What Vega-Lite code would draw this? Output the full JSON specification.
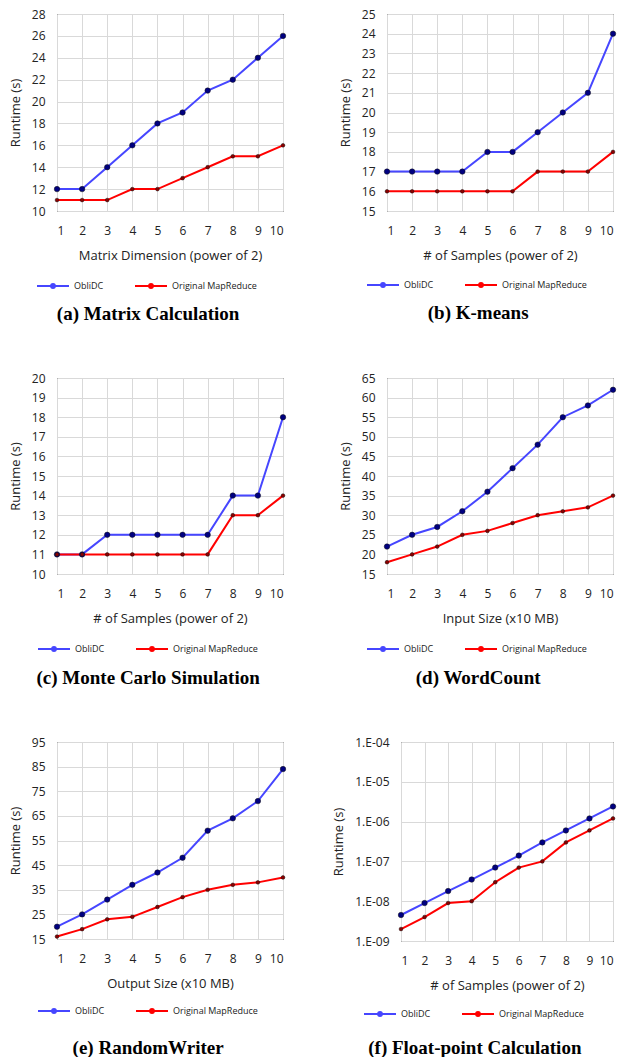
{
  "$schema": "https://vega.github.io/schema/vega-lite/v6.json",
  "padding": {"top": 7, "left": 8, "right": 0, "bottom": 0},
  "background": "white",
  "bounds": "flush",
  "spacing": 364,
  "resolve": {"scale": {"x": "independent", "y": "independent", "stroke": "independent", "fill": "independent"}, "legend": {"stroke": "independent", "fill": "independent"}, "axis": {"x": "independent", "y": "independent"}},
  "config": {
    "view": {"stroke": "#000", "strokeWidth": 1},
    "axis": {"labelFont": "Open Sans", "labelFontSize": 12, "labelColor": "#222", "titleFont": "Open Sans", "titleFontSize": 13, "titleFontWeight": "normal", "titleColor": "#222", "ticks": false, "domain": false, "gridColor": "#d9d9d9", "gridWidth": 1, "labelPadding": 12},
    "axisX": {"titlePadding": 13, "labelPadding": 14},
    "axisY": {"titlePadding": 9},
    "legend": {"orient": "none", "direction": "horizontal", "title": null, "labelFont": "Open Sans", "labelFontSize": 9, "labelColor": "#222", "symbolType": "M-1,0L1,0M-0.12,0A0.12,0.12,0,1,1,0.12,0A0.12,0.12,0,1,1,-0.12,0Z", "symbolSize": 1024, "symbolStrokeWidth": 2, "columnPadding": 27, "labelOffset": 4, "padding": 0},
    "title": {"font": "Liberation Serif", "fontSize": 19, "fontWeight": "bold", "color": "#000", "orient": "bottom", "anchor": "middle", "frame": "bounds", "offset": 13},
    "line": {"strokeWidth": 2},
    "point": {"filled": true, "opacity": 1, "stroke": "#111", "strokeWidth": 0.5}
  },
  "vconcat": [
    {
      "bounds": "flush",
      "spacing": 104,
      "resolve": {"scale": {"x": "independent", "y": "independent", "stroke": "independent", "fill": "independent"}, "legend": {"stroke": "independent", "fill": "independent"}, "axis": {"x": "independent", "y": "independent"}},
      "hconcat": [
        {
          "width": 226, "height": 197,
          "title": {"text": "(a) Matrix Calculation", "offset": 13},
          "data": {"values": [
            {"x": 1, "series": "ObliDC", "y": 12}, {"x": 2, "series": "ObliDC", "y": 12}, {"x": 3, "series": "ObliDC", "y": 14}, {"x": 4, "series": "ObliDC", "y": 16}, {"x": 5, "series": "ObliDC", "y": 18}, {"x": 6, "series": "ObliDC", "y": 19}, {"x": 7, "series": "ObliDC", "y": 21}, {"x": 8, "series": "ObliDC", "y": 22}, {"x": 9, "series": "ObliDC", "y": 24}, {"x": 10, "series": "ObliDC", "y": 26},
            {"x": 1, "series": "Original MapReduce", "y": 11}, {"x": 2, "series": "Original MapReduce", "y": 11}, {"x": 3, "series": "Original MapReduce", "y": 11}, {"x": 4, "series": "Original MapReduce", "y": 12}, {"x": 5, "series": "Original MapReduce", "y": 12}, {"x": 6, "series": "Original MapReduce", "y": 13}, {"x": 7, "series": "Original MapReduce", "y": 14}, {"x": 8, "series": "Original MapReduce", "y": 15}, {"x": 9, "series": "Original MapReduce", "y": 15}, {"x": 10, "series": "Original MapReduce", "y": 16}
          ]},
          "encoding": {
            "x": {"field": "x", "type": "quantitative", "scale": {"domain": [1, 10], "nice": false, "zero": false}, "axis": {"values": [1,2,3,4,5,6,7,8,9,10], "title": "Matrix Dimension (power of 2)"}},
            "y": {"field": "y", "type": "quantitative", "scale": {"domain": [10, 28], "nice": false, "zero": false}, "axis": {"values": [10,12,14,16,18,20,22,24,26,28], "title": "Runtime (s)"}}
          },
          "layer": [
            {"mark": {"type": "line"}, "encoding": {"stroke": {"field": "series", "type": "nominal", "scale": {"domain": ["ObliDC", "Original MapReduce"], "range": ["#4646ff", "#ff0000"]}, "legend": {"legendX": -21, "legendY": 255, "symbolType": "M-1,0L1,0M-0.12,0A0.12,0.12,0,1,1,0.12,0A0.12,0.12,0,1,1,-0.12,0Z", "symbolSize": 1024}}}},
            {"transform": [{"filter": "datum.series == 'ObliDC'"}], "mark": {"type": "point", "size": 30}, "encoding": {"fill": {"field": "series", "type": "nominal", "scale": {"domain": ["ObliDC", "Original MapReduce"], "range": ["#000080", "#8b0000"]}, "legend": {"legendX": -21, "legendY": 255, "symbolType": "M-1,0L1,0M-0.12,0A0.12,0.12,0,1,1,0.12,0A0.12,0.12,0,1,1,-0.12,0Z", "symbolSize": 1024}}}},
            {"transform": [{"filter": "datum.series != 'ObliDC'"}], "mark": {"type": "point", "size": 14}, "encoding": {"fill": {"field": "series", "type": "nominal", "scale": {"domain": ["ObliDC", "Original MapReduce"], "range": ["#000080", "#8b0000"]}}}}
          ]
        },
        {
          "width": 226, "height": 197,
          "title": {"text": "(b) K-means", "offset": 13},
          "data": {"values": [
            {"x": 1, "series": "ObliDC", "y": 17}, {"x": 2, "series": "ObliDC", "y": 17}, {"x": 3, "series": "ObliDC", "y": 17}, {"x": 4, "series": "ObliDC", "y": 17}, {"x": 5, "series": "ObliDC", "y": 18}, {"x": 6, "series": "ObliDC", "y": 18}, {"x": 7, "series": "ObliDC", "y": 19}, {"x": 8, "series": "ObliDC", "y": 20}, {"x": 9, "series": "ObliDC", "y": 21}, {"x": 10, "series": "ObliDC", "y": 24},
            {"x": 1, "series": "Original MapReduce", "y": 16}, {"x": 2, "series": "Original MapReduce", "y": 16}, {"x": 3, "series": "Original MapReduce", "y": 16}, {"x": 4, "series": "Original MapReduce", "y": 16}, {"x": 5, "series": "Original MapReduce", "y": 16}, {"x": 6, "series": "Original MapReduce", "y": 16}, {"x": 7, "series": "Original MapReduce", "y": 17}, {"x": 8, "series": "Original MapReduce", "y": 17}, {"x": 9, "series": "Original MapReduce", "y": 17}, {"x": 10, "series": "Original MapReduce", "y": 18}
          ]},
          "encoding": {
            "x": {"field": "x", "type": "quantitative", "scale": {"domain": [1, 10], "nice": false, "zero": false}, "axis": {"values": [1,2,3,4,5,6,7,8,9,10], "title": "# of Samples (power of 2)"}},
            "y": {"field": "y", "type": "quantitative", "scale": {"domain": [15, 25], "nice": false, "zero": false}, "axis": {"values": [15,16,17,18,19,20,21,22,23,24,25], "title": "Runtime (s)"}}
          },
          "layer": [
            {"mark": {"type": "line"}, "encoding": {"stroke": {"field": "series", "type": "nominal", "scale": {"domain": ["ObliDC", "Original MapReduce"], "range": ["#4646ff", "#ff0000"]}, "legend": {"legendX": -21, "legendY": 254, "symbolType": "M-1,0L1,0M-0.12,0A0.12,0.12,0,1,1,0.12,0A0.12,0.12,0,1,1,-0.12,0Z", "symbolSize": 1024}}}},
            {"transform": [{"filter": "datum.series == 'ObliDC'"}], "mark": {"type": "point", "size": 30}, "encoding": {"fill": {"field": "series", "type": "nominal", "scale": {"domain": ["ObliDC", "Original MapReduce"], "range": ["#000080", "#8b0000"]}, "legend": {"legendX": -21, "legendY": 254, "symbolType": "M-1,0L1,0M-0.12,0A0.12,0.12,0,1,1,0.12,0A0.12,0.12,0,1,1,-0.12,0Z", "symbolSize": 1024}}}},
            {"transform": [{"filter": "datum.series != 'ObliDC'"}], "mark": {"type": "point", "size": 14}, "encoding": {"fill": {"field": "series", "type": "nominal", "scale": {"domain": ["ObliDC", "Original MapReduce"], "range": ["#000080", "#8b0000"]}}}}
          ]
        }
      ]
    },
    {
      "bounds": "flush",
      "spacing": 104,
      "resolve": {"scale": {"x": "independent", "y": "independent", "stroke": "independent", "fill": "independent"}, "legend": {"stroke": "independent", "fill": "independent"}, "axis": {"x": "independent", "y": "independent"}},
      "hconcat": [
        {
          "width": 226, "height": 196,
          "title": {"text": "(c) Monte Carlo Simulation", "offset": 14},
          "data": {"values": [
            {"x": 1, "series": "ObliDC", "y": 11}, {"x": 2, "series": "ObliDC", "y": 11}, {"x": 3, "series": "ObliDC", "y": 12}, {"x": 4, "series": "ObliDC", "y": 12}, {"x": 5, "series": "ObliDC", "y": 12}, {"x": 6, "series": "ObliDC", "y": 12}, {"x": 7, "series": "ObliDC", "y": 12}, {"x": 8, "series": "ObliDC", "y": 14}, {"x": 9, "series": "ObliDC", "y": 14}, {"x": 10, "series": "ObliDC", "y": 18},
            {"x": 1, "series": "Original MapReduce", "y": 11}, {"x": 2, "series": "Original MapReduce", "y": 11}, {"x": 3, "series": "Original MapReduce", "y": 11}, {"x": 4, "series": "Original MapReduce", "y": 11}, {"x": 5, "series": "Original MapReduce", "y": 11}, {"x": 6, "series": "Original MapReduce", "y": 11}, {"x": 7, "series": "Original MapReduce", "y": 11}, {"x": 8, "series": "Original MapReduce", "y": 13}, {"x": 9, "series": "Original MapReduce", "y": 13}, {"x": 10, "series": "Original MapReduce", "y": 14}
          ]},
          "encoding": {
            "x": {"field": "x", "type": "quantitative", "scale": {"domain": [1, 10], "nice": false, "zero": false}, "axis": {"values": [1,2,3,4,5,6,7,8,9,10], "title": "# of Samples (power of 2)"}},
            "y": {"field": "y", "type": "quantitative", "scale": {"domain": [10, 20], "nice": false, "zero": false}, "axis": {"values": [10,11,12,13,14,15,16,17,18,19,20], "title": "Runtime (s)"}}
          },
          "layer": [
            {"mark": {"type": "line"}, "encoding": {"stroke": {"field": "series", "type": "nominal", "scale": {"domain": ["ObliDC", "Original MapReduce"], "range": ["#4646ff", "#ff0000"]}, "legend": {"legendX": -20, "legendY": 254, "symbolType": "M-1,0L1,0M-0.12,0A0.12,0.12,0,1,1,0.12,0A0.12,0.12,0,1,1,-0.12,0Z", "symbolSize": 1024}}}},
            {"transform": [{"filter": "datum.series == 'ObliDC'"}], "mark": {"type": "point", "size": 30}, "encoding": {"fill": {"field": "series", "type": "nominal", "scale": {"domain": ["ObliDC", "Original MapReduce"], "range": ["#000080", "#8b0000"]}, "legend": {"legendX": -20, "legendY": 254, "symbolType": "M-1,0L1,0M-0.12,0A0.12,0.12,0,1,1,0.12,0A0.12,0.12,0,1,1,-0.12,0Z", "symbolSize": 1024}}}},
            {"transform": [{"filter": "datum.series != 'ObliDC'"}], "mark": {"type": "point", "size": 14}, "encoding": {"fill": {"field": "series", "type": "nominal", "scale": {"domain": ["ObliDC", "Original MapReduce"], "range": ["#000080", "#8b0000"]}}}}
          ]
        },
        {
          "width": 226, "height": 196,
          "title": {"text": "(d) WordCount", "offset": 14},
          "data": {"values": [
            {"x": 1, "series": "ObliDC", "y": 22}, {"x": 2, "series": "ObliDC", "y": 25}, {"x": 3, "series": "ObliDC", "y": 27}, {"x": 4, "series": "ObliDC", "y": 31}, {"x": 5, "series": "ObliDC", "y": 36}, {"x": 6, "series": "ObliDC", "y": 42}, {"x": 7, "series": "ObliDC", "y": 48}, {"x": 8, "series": "ObliDC", "y": 55}, {"x": 9, "series": "ObliDC", "y": 58}, {"x": 10, "series": "ObliDC", "y": 62},
            {"x": 1, "series": "Original MapReduce", "y": 18}, {"x": 2, "series": "Original MapReduce", "y": 20}, {"x": 3, "series": "Original MapReduce", "y": 22}, {"x": 4, "series": "Original MapReduce", "y": 25}, {"x": 5, "series": "Original MapReduce", "y": 26}, {"x": 6, "series": "Original MapReduce", "y": 28}, {"x": 7, "series": "Original MapReduce", "y": 30}, {"x": 8, "series": "Original MapReduce", "y": 31}, {"x": 9, "series": "Original MapReduce", "y": 32}, {"x": 10, "series": "Original MapReduce", "y": 35}
          ]},
          "encoding": {
            "x": {"field": "x", "type": "quantitative", "scale": {"domain": [1, 10], "nice": false, "zero": false}, "axis": {"values": [1,2,3,4,5,6,7,8,9,10], "title": "Input Size (x10 MB)"}},
            "y": {"field": "y", "type": "quantitative", "scale": {"domain": [15, 65], "nice": false, "zero": false}, "axis": {"values": [15,20,25,30,35,40,45,50,55,60,65], "title": "Runtime (s)"}}
          },
          "layer": [
            {"mark": {"type": "line"}, "encoding": {"stroke": {"field": "series", "type": "nominal", "scale": {"domain": ["ObliDC", "Original MapReduce"], "range": ["#4646ff", "#ff0000"]}, "legend": {"legendX": -21, "legendY": 254, "symbolType": "M-1,0L1,0M-0.12,0A0.12,0.12,0,1,1,0.12,0A0.12,0.12,0,1,1,-0.12,0Z", "symbolSize": 1024}}}},
            {"transform": [{"filter": "datum.series == 'ObliDC'"}], "mark": {"type": "point", "size": 30}, "encoding": {"fill": {"field": "series", "type": "nominal", "scale": {"domain": ["ObliDC", "Original MapReduce"], "range": ["#000080", "#8b0000"]}, "legend": {"legendX": -21, "legendY": 254, "symbolType": "M-1,0L1,0M-0.12,0A0.12,0.12,0,1,1,0.12,0A0.12,0.12,0,1,1,-0.12,0Z", "symbolSize": 1024}}}},
            {"transform": [{"filter": "datum.series != 'ObliDC'"}], "mark": {"type": "point", "size": 14}, "encoding": {"fill": {"field": "series", "type": "nominal", "scale": {"domain": ["ObliDC", "Original MapReduce"], "range": ["#000080", "#8b0000"]}}}}
          ]
        }
      ]
    },
    {
      "bounds": "flush",
      "spacing": 118,
      "resolve": {"scale": {"x": "independent", "y": "independent", "stroke": "independent", "fill": "independent"}, "legend": {"stroke": "independent", "fill": "independent"}, "axis": {"x": "independent", "y": "independent"}},
      "hconcat": [
        {
          "width": 226, "height": 197,
          "title": {"text": "(e) RandomWriter", "offset": 22},
          "data": {"values": [
            {"x": 1, "series": "ObliDC", "y": 20}, {"x": 2, "series": "ObliDC", "y": 25}, {"x": 3, "series": "ObliDC", "y": 31}, {"x": 4, "series": "ObliDC", "y": 37}, {"x": 5, "series": "ObliDC", "y": 42}, {"x": 6, "series": "ObliDC", "y": 48}, {"x": 7, "series": "ObliDC", "y": 59}, {"x": 8, "series": "ObliDC", "y": 64}, {"x": 9, "series": "ObliDC", "y": 71}, {"x": 10, "series": "ObliDC", "y": 84},
            {"x": 1, "series": "Original MapReduce", "y": 16}, {"x": 2, "series": "Original MapReduce", "y": 19}, {"x": 3, "series": "Original MapReduce", "y": 23}, {"x": 4, "series": "Original MapReduce", "y": 24}, {"x": 5, "series": "Original MapReduce", "y": 28}, {"x": 6, "series": "Original MapReduce", "y": 32}, {"x": 7, "series": "Original MapReduce", "y": 35}, {"x": 8, "series": "Original MapReduce", "y": 37}, {"x": 9, "series": "Original MapReduce", "y": 38}, {"x": 10, "series": "Original MapReduce", "y": 40}
          ]},
          "encoding": {
            "x": {"field": "x", "type": "quantitative", "scale": {"domain": [1, 10], "nice": false, "zero": false}, "axis": {"values": [1,2,3,4,5,6,7,8,9,10], "title": "Output Size (x10 MB)"}},
            "y": {"field": "y", "type": "quantitative", "scale": {"domain": [15, 95], "nice": false, "zero": false}, "axis": {"values": [15,25,35,45,55,65,75,85,95], "title": "Runtime (s)"}}
          },
          "layer": [
            {"mark": {"type": "line"}, "encoding": {"stroke": {"field": "series", "type": "nominal", "scale": {"domain": ["ObliDC", "Original MapReduce"], "range": ["#4646ff", "#ff0000"]}, "legend": {"legendX": -20, "legendY": 252, "symbolType": "M-1,0L1,0M-0.12,0A0.12,0.12,0,1,1,0.12,0A0.12,0.12,0,1,1,-0.12,0Z", "symbolSize": 1024}}}},
            {"transform": [{"filter": "datum.series == 'ObliDC'"}], "mark": {"type": "point", "size": 30}, "encoding": {"fill": {"field": "series", "type": "nominal", "scale": {"domain": ["ObliDC", "Original MapReduce"], "range": ["#000080", "#8b0000"]}, "legend": {"legendX": -20, "legendY": 252, "symbolType": "M-1,0L1,0M-0.12,0A0.12,0.12,0,1,1,0.12,0A0.12,0.12,0,1,1,-0.12,0Z", "symbolSize": 1024}}}},
            {"transform": [{"filter": "datum.series != 'ObliDC'"}], "mark": {"type": "point", "size": 14}, "encoding": {"fill": {"field": "series", "type": "nominal", "scale": {"domain": ["ObliDC", "Original MapReduce"], "range": ["#000080", "#8b0000"]}}}}
          ]
        },
        {
          "width": 212, "height": 199,
          "title": {"text": "(f) Float-point Calculation", "offset": 19},
          "data": {"values": [
            {"x": 1, "series": "ObliDC", "y": 4.5e-9}, {"x": 2, "series": "ObliDC", "y": 9e-9}, {"x": 3, "series": "ObliDC", "y": 1.8e-8}, {"x": 4, "series": "ObliDC", "y": 3.5e-8}, {"x": 5, "series": "ObliDC", "y": 7e-8}, {"x": 6, "series": "ObliDC", "y": 1.4e-7}, {"x": 7, "series": "ObliDC", "y": 3e-7}, {"x": 8, "series": "ObliDC", "y": 6e-7}, {"x": 9, "series": "ObliDC", "y": 1.2e-6}, {"x": 10, "series": "ObliDC", "y": 2.4e-6},
            {"x": 1, "series": "Original MapReduce", "y": 2e-9}, {"x": 2, "series": "Original MapReduce", "y": 4e-9}, {"x": 3, "series": "Original MapReduce", "y": 9e-9}, {"x": 4, "series": "Original MapReduce", "y": 1e-8}, {"x": 5, "series": "Original MapReduce", "y": 3e-8}, {"x": 6, "series": "Original MapReduce", "y": 7e-8}, {"x": 7, "series": "Original MapReduce", "y": 1e-7}, {"x": 8, "series": "Original MapReduce", "y": 3e-7}, {"x": 9, "series": "Original MapReduce", "y": 6e-7}, {"x": 10, "series": "Original MapReduce", "y": 1.2e-6}
          ]},
          "encoding": {
            "x": {"field": "x", "type": "quantitative", "scale": {"domain": [1, 10], "nice": false, "zero": false}, "axis": {"values": [1,2,3,4,5,6,7,8,9,10], "title": "# of Samples (power of 2)"}},
            "y": {"field": "y", "type": "quantitative", "scale": {"type": "log", "domain": [1e-9, 1e-4], "nice": false}, "axis": {"values": [1e-9, 1e-8, 1e-7, 1e-6, 1e-5, 1e-4], "labelExpr": "'1.E-0' + round(-log(datum.value) / LN10)", "title": "Runtime (s)"}}
          },
          "layer": [
            {"mark": {"type": "line"}, "encoding": {"stroke": {"field": "series", "type": "nominal", "scale": {"domain": ["ObliDC", "Original MapReduce"], "range": ["#4646ff", "#ff0000"]}, "legend": {"legendX": -38, "legendY": 255, "symbolType": "M-1,0L1,0M-0.12,0A0.12,0.12,0,1,1,0.12,0A0.12,0.12,0,1,1,-0.12,0Z", "symbolSize": 1024}}}},
            {"transform": [{"filter": "datum.series == 'ObliDC'"}], "mark": {"type": "point", "size": 30}, "encoding": {"fill": {"field": "series", "type": "nominal", "scale": {"domain": ["ObliDC", "Original MapReduce"], "range": ["#000080", "#8b0000"]}, "legend": {"legendX": -38, "legendY": 255, "symbolType": "M-1,0L1,0M-0.12,0A0.12,0.12,0,1,1,0.12,0A0.12,0.12,0,1,1,-0.12,0Z", "symbolSize": 1024}}}},
            {"transform": [{"filter": "datum.series != 'ObliDC'"}], "mark": {"type": "point", "size": 14}, "encoding": {"fill": {"field": "series", "type": "nominal", "scale": {"domain": ["ObliDC", "Original MapReduce"], "range": ["#000080", "#8b0000"]}}}}
          ]
        }
      ]
    }
  ]
}
